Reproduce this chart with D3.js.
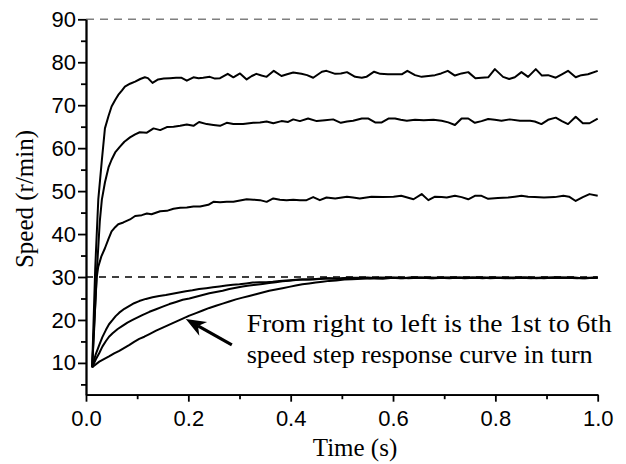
<!DOCTYPE html>
<html>
<head>
<meta charset="utf-8">
<script src="https://cdn.jsdelivr.net/npm/d3@7"></script>
<style>
  html, body { margin: 0; padding: 0; background: #fff; }
  svg { display: block; }
</style>
</head>
<body>
<div id="chart"></div>
<script>
// step response curves, [time (s), speed (r/min)]
const curve1 = [[0.012,9.0],[0.018,32],[0.024,48],[0.031,57.2],[0.037,64.6],[0.044,67.5],[0.050,69.7],[0.057,71.2],[0.063,72.4],[0.070,73.4],[0.076,74.3],[0.086,75.0],[0.096,75.5],[0.106,76.1],[0.115,76.5],[0.121,76.3],[0.130,75.2],[0.141,76.0],[0.152,76.2],[0.164,76.3],[0.176,76.4],[0.186,76.4],[0.197,75.7],[0.210,76.5],[0.220,76.3],[0.229,76.4],[0.242,76.6],[0.252,76.2],[0.262,76.3],[0.277,77.3],[0.288,76.5],[0.301,77.4],[0.314,76.0],[0.324,76.8],[0.333,77.3],[0.343,76.9],[0.353,76.6],[0.367,78.0],[0.382,76.8],[0.393,77.2],[0.405,77.6],[0.421,77.3],[0.432,77.0],[0.444,76.4],[0.461,77.8],[0.470,78.0],[0.487,77.3],[0.498,77.4],[0.510,77.7],[0.526,76.6],[0.539,76.4],[0.548,76.6],[0.563,77.8],[0.575,77.3],[0.590,77.2],[0.603,77.2],[0.617,77.2],[0.628,78.0],[0.643,77.0],[0.656,76.6],[0.669,76.8],[0.682,77.0],[0.694,77.4],[0.707,78.0],[0.721,76.9],[0.734,77.4],[0.747,77.7],[0.761,76.3],[0.773,76.4],[0.786,76.5],[0.799,78.4],[0.815,76.6],[0.827,76.1],[0.838,76.5],[0.851,77.7],[0.864,76.6],[0.879,78.4],[0.891,76.9],[0.903,77.0],[0.918,76.4],[0.930,77.2],[0.942,78.0],[0.957,76.5],[0.968,77.0],[0.981,77.2],[1.0,78.0]];

const curve2 = [[0.012,9.0],[0.016,18],[0.021,31],[0.027,43],[0.031,48],[0.037,52.0],[0.044,55.5],[0.050,57.3],[0.057,59.0],[0.066,60.3],[0.075,61.5],[0.086,62.5],[0.096,63.2],[0.105,63.7],[0.119,63.6],[0.132,64.6],[0.145,64.2],[0.158,64.9],[0.171,65.0],[0.184,65.2],[0.197,65.5],[0.210,65.2],[0.221,66.1],[0.236,65.6],[0.249,65.4],[0.262,65.2],[0.275,65.9],[0.288,65.6],[0.307,65.6],[0.327,65.9],[0.340,66.0],[0.353,66.2],[0.366,65.8],[0.382,66.3],[0.395,66.1],[0.405,66.7],[0.418,66.3],[0.434,66.9],[0.451,66.3],[0.467,66.5],[0.483,66.7],[0.498,65.9],[0.510,66.2],[0.522,66.4],[0.539,66.9],[0.552,66.9],[0.565,66.0],[0.578,66.0],[0.591,66.9],[0.604,66.9],[0.615,66.6],[0.627,66.4],[0.643,66.6],[0.660,66.5],[0.679,66.6],[0.695,66.4],[0.708,66.0],[0.721,65.4],[0.734,66.9],[0.747,66.9],[0.760,65.9],[0.773,66.3],[0.786,66.8],[0.799,66.6],[0.812,66.4],[0.828,66.7],[0.848,66.4],[0.868,66.4],[0.877,66.2],[0.890,65.6],[0.903,66.6],[0.918,67.1],[0.930,66.3],[0.942,65.6],[0.957,67.3],[0.971,65.8],[0.984,65.8],[1.0,66.9]];

const curve3 = [[0.012,9.0],[0.016,19],[0.021,30],[0.024,32.4],[0.030,34.8],[0.037,36.7],[0.044,38.9],[0.050,40.6],[0.057,41.6],[0.063,42.3],[0.073,42.7],[0.086,43.4],[0.096,44.2],[0.109,44.4],[0.119,44.8],[0.128,44.6],[0.145,45.3],[0.158,45.4],[0.171,45.9],[0.184,46.1],[0.197,46.2],[0.210,46.4],[0.223,46.4],[0.239,46.8],[0.249,47.5],[0.262,47.4],[0.275,47.5],[0.288,47.5],[0.301,47.8],[0.314,48.1],[0.327,48.0],[0.340,47.9],[0.353,47.5],[0.366,48.3],[0.379,48.0],[0.392,47.9],[0.405,48.0],[0.418,47.9],[0.431,47.9],[0.444,48.6],[0.457,47.9],[0.470,48.5],[0.487,48.3],[0.510,48.7],[0.522,48.5],[0.535,48.3],[0.558,48.7],[0.580,48.6],[0.601,48.7],[0.616,48.9],[0.628,48.5],[0.640,48.1],[0.656,49.3],[0.669,47.9],[0.682,48.7],[0.695,48.6],[0.705,48.5],[0.721,48.9],[0.734,48.6],[0.747,48.1],[0.760,48.9],[0.773,48.9],[0.786,48.2],[0.805,48.4],[0.825,48.5],[0.838,48.7],[0.851,48.9],[0.864,48.7],[0.877,48.6],[0.895,48.5],[0.916,48.6],[0.933,48.9],[0.944,48.7],[0.957,47.7],[0.971,48.6],[0.984,49.3],[1.0,48.9]];

const curve4 = [[0.012,9.0],[0.019,12],[0.026,14.2],[0.032,16.0],[0.039,17.7],[0.045,19.0],[0.052,20.0],[0.058,20.9],[0.065,21.7],[0.075,22.6],[0.085,23.3],[0.094,23.9],[0.104,24.4],[0.117,24.9],[0.130,25.3],[0.143,25.6],[0.156,25.8],[0.169,26.1],[0.182,26.4],[0.195,26.7],[0.208,26.9],[0.221,27.2],[0.235,27.4],[0.248,27.6],[0.261,27.8],[0.274,28.0],[0.287,28.2],[0.300,28.3],[0.313,28.5],[0.326,28.7],[0.339,28.8],[0.352,28.8],[0.365,28.9],[0.378,29.1],[0.391,29.2],[0.404,29.3],[0.417,29.4],[0.430,29.4],[0.443,29.5],[0.456,29.6],[0.469,29.7],[0.490,29.6],[0.510,29.8],[0.530,29.7],[0.550,29.9],[0.570,29.7],[0.590,29.8],[0.610,29.9],[0.630,29.7],[0.650,29.8],[0.670,29.9],[0.690,29.8],[0.710,29.7],[0.730,29.9],[0.750,29.8],[0.770,29.9],[0.790,29.7],[0.810,29.8],[0.830,29.9],[0.850,29.8],[0.870,29.7],[0.890,29.9],[0.910,29.8],[0.930,29.8],[0.950,29.9],[0.970,29.7],[1.0,29.8]];

const curve5 = [[0.012,9.0],[0.019,10.8],[0.026,12.3],[0.032,13.8],[0.039,15.1],[0.045,16.1],[0.052,16.9],[0.062,17.9],[0.072,18.7],[0.081,19.4],[0.091,20.0],[0.101,20.6],[0.111,21.2],[0.124,21.9],[0.137,22.5],[0.150,23.1],[0.163,23.7],[0.176,24.2],[0.189,24.7],[0.202,25.0],[0.215,25.4],[0.228,25.8],[0.241,26.2],[0.254,26.5],[0.267,26.8],[0.280,27.2],[0.293,27.5],[0.306,27.8],[0.319,28.0],[0.332,28.2],[0.345,28.4],[0.358,28.6],[0.371,28.8],[0.384,29.0],[0.397,29.1],[0.410,29.3],[0.423,29.4],[0.436,29.4],[0.449,29.5],[0.462,29.6],[0.475,29.7],[0.495,29.6],[0.515,29.8],[0.535,29.8],[0.555,29.7],[0.575,29.9],[0.595,29.8],[0.615,29.7],[0.635,29.9],[0.655,29.8],[0.675,29.7],[0.695,29.9],[0.715,29.8],[0.735,29.8],[0.755,29.9],[0.775,29.7],[0.795,29.9],[0.815,29.8],[0.835,29.7],[0.855,29.9],[0.875,29.8],[0.895,29.7],[0.915,29.9],[0.935,29.8],[0.955,29.8],[0.975,29.7],[1.0,29.9]];

const curve6 = [[0.012,9.0],[0.026,10.3],[0.035,10.9],[0.045,11.5],[0.055,12.2],[0.065,12.8],[0.075,13.5],[0.085,14.2],[0.094,14.9],[0.104,15.6],[0.114,16.1],[0.124,16.7],[0.137,17.5],[0.150,18.2],[0.163,18.9],[0.176,19.6],[0.189,20.3],[0.202,21.0],[0.215,21.6],[0.228,22.2],[0.241,22.8],[0.254,23.3],[0.267,23.8],[0.280,24.3],[0.293,24.8],[0.306,25.2],[0.319,25.6],[0.332,26.0],[0.345,26.4],[0.358,26.8],[0.371,27.1],[0.384,27.4],[0.397,27.7],[0.410,28.0],[0.423,28.3],[0.436,28.5],[0.449,28.7],[0.462,28.9],[0.475,29.1],[0.489,29.2],[0.505,29.4],[0.520,29.5],[0.540,29.6],[0.560,29.7],[0.580,29.6],[0.600,29.8],[0.620,29.7],[0.640,29.9],[0.660,29.8],[0.680,29.7],[0.700,29.8],[0.720,29.9],[0.740,29.7],[0.760,29.8],[0.780,29.9],[0.800,29.8],[0.820,29.7],[0.840,29.8],[0.860,29.9],[0.880,29.7],[0.900,29.8],[0.920,29.9],[0.940,29.8],[0.960,29.7],[0.980,29.8],[1.0,29.8]];

const xTicks = [0, 0.2, 0.4, 0.6, 0.8, 1.0];
const xMinorTicks = [0.1, 0.3, 0.5, 0.7, 0.9];
const yTicks = [10, 20, 30, 40, 50, 60, 70, 80, 90];
const yMinorTicks = [5, 15, 25, 35, 45, 55, 65, 75, 85];
const refLines = [30, 90];

const noteLines = ['From right to left is the 1st to 6th', 'speed step response curve in turn'];

const width = 626;
const height = 464;
const margin = { top: 19.3, right: 28.3, bottom: 69.3, left: 86 };
const w = width - margin.left - margin.right;
const h = height - margin.top - margin.bottom;

const sans = '"Liberation Sans", Arial, sans-serif';
const serif = '"Liberation Serif", "Times New Roman", serif';

const svg = d3.select('#chart')
  .append('svg')
  .attr('width', width)
  .attr('height', height);

const g = svg.append('g')
  .attr('transform', `translate(${margin.left},${margin.top})`);

const x = d3.scaleLinear().domain([0, 1]).range([0, w]);
const y = d3.scaleLinear().domain([2.6, 90]).range([h, 0]);

// reference dashed lines (90 grey, 30 black)
g.selectAll('.ref')
  .data(refLines)
  .enter()
  .append('line')
  .attr('x1', x(0))
  .attr('x2', x(1))
  .attr('y1', (d) => y(d))
  .attr('y2', (d) => y(d))
  .attr('stroke', (d) => (d === 90 ? '#7f7f7f' : '#000'))
  .attr('stroke-width', 1.6)
  .attr('stroke-dasharray', (d) => (d === 90 ? '8,6' : '7,6'));

const line = d3.line()
  .x((d) => x(d[0]))
  .y((d) => y(d[1]));

g.selectAll('.curve')
  .data([curve1, curve2, curve3, curve4, curve5, curve6])
  .enter()
  .append('path')
  .attr('d', line)
  .attr('fill', 'none')
  .attr('stroke', '#000')
  .attr('stroke-width', 2)
  .attr('stroke-linejoin', 'round');

// axes
const xAxis = d3.axisBottom(x)
  .tickValues(xTicks)
  .tickFormat(d3.format('.1f'))
  .tickSize(7)
  .tickSizeOuter(0)
  .tickPadding(9);

const xMinor = d3.axisBottom(x)
  .tickValues(xMinorTicks)
  .tickFormat('')
  .tickSize(4.5)
  .tickSizeOuter(0);

const yAxis = d3.axisLeft(y)
  .tickValues(yTicks)
  .tickSize(8)
  .tickSizeOuter(0)
  .tickPadding(2);

const yMinor = d3.axisLeft(y)
  .tickValues(yMinorTicks)
  .tickFormat('')
  .tickSize(5)
  .tickSizeOuter(0);

[
  [xMinor, `translate(0,${h})`],
  [yMinor, null],
  [xAxis, `translate(0,${h})`],
  [yAxis, null],
].forEach(([axis, tr]) => {
  const a = g.append('g').call(axis);
  if (tr) a.attr('transform', tr);
  a.selectAll('path, line').attr('stroke', '#000').attr('stroke-width', 1.8);
  a.selectAll('text')
    .attr('fill', '#000')
    .style('font-family', sans)
    .style('font-size', '22px');
});

// axis titles
svg.append('text')
  .attr('x', 355)
  .attr('y', 456)
  .attr('text-anchor', 'middle')
  .style('font-family', serif)
  .style('font-size', '25px')
  .text('Time (s)');

svg.append('text')
  .attr('transform', 'translate(33,199) rotate(-90)')
  .attr('text-anchor', 'middle')
  .style('font-family', serif)
  .style('font-size', '25px')
  .text('Speed (r/min)');

// annotation
const noteX = x(0.314);
g.selectAll('.note')
  .data(noteLines)
  .enter()
  .append('text')
  .attr('x', noteX)
  .attr('y', (d, i) => y(17.3) + i * 31)
  .attr('textLength', (d, i) => (i === 0 ? 365 : 346))
  .attr('lengthAdjust', 'spacingAndGlyphs')
  .style('font-family', serif)
  .style('font-size', '25px')
  .attr('fill', '#000')
  .text((d) => d);

// arrow pointing at the curves
const tail = [x(0.285), y(14.2)];
const tip = [x(0.195), y(20.2)];
const dx = tip[0] - tail[0];
const dy = tip[1] - tail[1];
const len = Math.hypot(dx, dy);
const ux = dx / len;
const uy = dy / len;
const headLen = 20;
const headHalf = 8;
const notch = 14;

g.append('line')
  .attr('x1', tail[0])
  .attr('y1', tail[1])
  .attr('x2', tip[0] - ux * notch)
  .attr('y2', tip[1] - uy * notch)
  .attr('stroke', '#000')
  .attr('stroke-width', 3.2);

const bx = tip[0] - ux * headLen;
const by = tip[1] - uy * headLen;
g.append('path')
  .attr('d', `M${tip[0]},${tip[1]}`
    + `L${bx - uy * headHalf},${by + ux * headHalf}`
    + `L${tip[0] - ux * notch},${tip[1] - uy * notch}`
    + `L${bx + uy * headHalf},${by - ux * headHalf}Z`)
  .attr('fill', '#000');
</script>
</body>
</html>
